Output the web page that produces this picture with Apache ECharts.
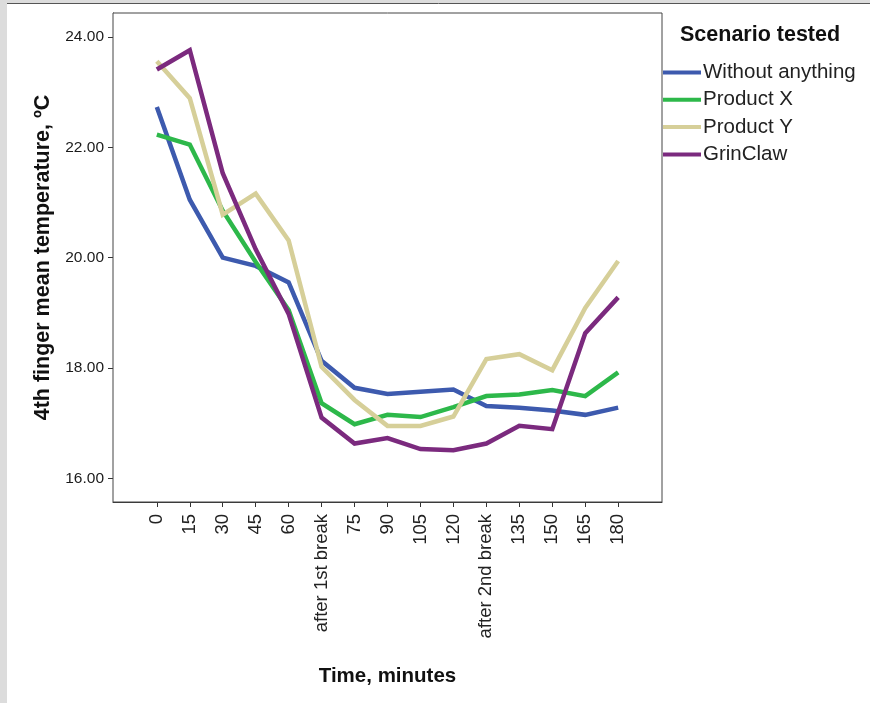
<!DOCTYPE html>
<html><head><meta charset="utf-8">
<script src="https://cdn.jsdelivr.net/npm/echarts@6/dist/echarts.min.js"></script>
<style>html,body{margin:0;padding:0;background:#fff}#c{width:870px;height:703px}</style>
</head><body><div id="c"></div>
<script>
var categories = ["0","15","30","45","60","after 1st break","75","90","105","120","after 2nd break","135","150","165","180"];
var yTicks = [16, 18, 20, 22, 24];
var seriesNames = ["Without anything", "Product X", "Product Y", "GrinClaw"];
var withoutAnything = [22.73, 21.05, 20.00, 19.85, 19.55, 18.13, 17.64, 17.53, 17.57, 17.61, 17.31, 17.28, 17.23, 17.15, 17.28];
var productX = [22.23, 22.05, 20.85, 19.92, 19.05, 17.36, 16.98, 17.15, 17.11, 17.29, 17.49, 17.52, 17.60, 17.49, 17.92];
var productY = [23.56, 22.89, 20.78, 21.16, 20.31, 18.02, 17.42, 16.95, 16.95, 17.12, 18.16, 18.25, 17.96, 19.09, 19.94];
var grinClaw = [23.41, 23.76, 21.53, 20.15, 18.98, 17.10, 16.63, 16.73, 16.53, 16.51, 16.63, 16.95, 16.89, 18.63, 19.28];
var colors = ["#3d5aae", "#2db84a", "#d6cf99", "#7b2a7e"];
var allValues = [withoutAnything, productX, productY, grinClaw];

var chart = echarts.init(document.getElementById('c'), null, {renderer: 'canvas'});
var idx = categories.map(function (c, i) { return i; });
var font = '"Liberation Sans", Arial, sans-serif';
var series = allValues.map(function (vals, s) {
  return {
    name: seriesNames[s], type: 'line', showSymbol: false, symbol: 'none',
    data: vals.map(function (v, i) { return [i, v]; }),
    lineStyle: {color: colors[s], width: 4.5, join: 'miter'},
    itemStyle: {color: colors[s]}, z: 2 + s
  };
});
chart.setOption({
  animation: false,
  backgroundColor: '#fff',
  textStyle: {fontFamily: font},
  grid: {left: 113, right: 208, top: 13, bottom: 201, show: true, borderColor: '#444', borderWidth: 1, backgroundColor: '#fff', z: 1},
  xAxis: {
    type: 'value', min: -1.33, max: 15.33,
    axisLine: {show: true, onZero: false, lineStyle: {color: '#333', width: 1}},
    axisTick: {show: true, length: 5, inside: false, customValues: idx, lineStyle: {color: '#333'}},
    axisLabel: {customValues: idx, rotate: 90, fontSize: 18.5, color: '#222', margin: 12, fontFamily: font,
      formatter: function (v) { return categories[Math.round(v)]; }},
    splitLine: {show: false},
    name: 'Time, minutes', nameLocation: 'middle', nameGap: 164,
    nameTextStyle: {fontSize: 20.5, fontWeight: 'bold', color: '#111', fontFamily: font}
  },
  yAxis: {
    type: 'value', min: 15.57, max: 24.435,
    axisLine: {show: true, onZero: false, lineStyle: {color: '#333', width: 1}},
    axisTick: {show: true, length: 5, customValues: yTicks, lineStyle: {color: '#333'}},
    axisLabel: {customValues: yTicks, fontSize: 15.5, color: '#1a1a1a', margin: 9, fontFamily: font,
      formatter: function (v) { return v.toFixed(2); }},
    splitLine: {show: false},
    name: '4th finger mean temperature, ºC', nameLocation: 'middle', nameGap: 59, nameRotate: 90,
    nameTextStyle: {fontSize: 21.5, fontWeight: 'bold', color: '#111', fontFamily: font}
  },
  legend: {
    orient: 'vertical', left: 658, top: 57, icon: 'rect', itemWidth: 38, itemHeight: 4, itemGap: 6.3,
    data: seriesNames,
    textStyle: {fontSize: 20.5, color: '#222', padding: [0, 0, 0, -3], fontFamily: font}
  },
  graphic: [
    {type: 'rect', shape: {x: 0, y: 0, width: 7, height: 703}, style: {fill: '#dcdcdc'}, silent: true},
    {type: 'rect', shape: {x: 0, y: 0, width: 870, height: 3}, style: {fill: '#dcdcdc'}, silent: true},
    {type: 'line', shape: {x1: 7, y1: 3.5, x2: 870, y2: 3.5}, style: {stroke: '#555', lineWidth: 1}, silent: true},
    {type: 'text', left: 680, top: 24, style: {text: 'Scenario tested', font: 'bold 21.5px ' + font, fill: '#111'}}
  ],
  series: series
});
</script></body></html>
